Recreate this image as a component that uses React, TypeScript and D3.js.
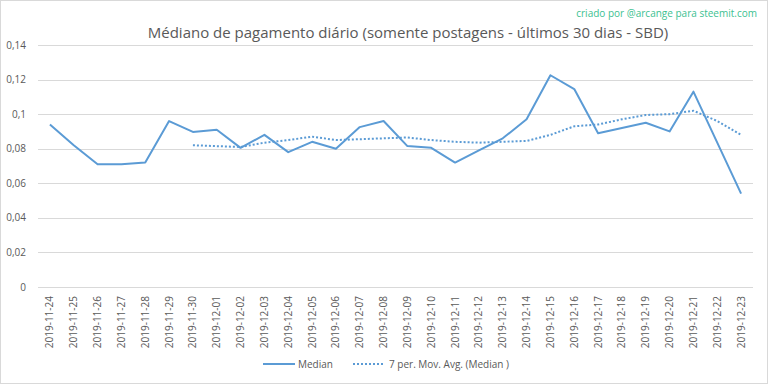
import { useEffect, useRef } from 'react'
import * as d3 from 'd3'

const dates = [
  '2019-11-24', '2019-11-25', '2019-11-26', '2019-11-27', '2019-11-28', '2019-11-29',
  '2019-11-30', '2019-12-01', '2019-12-02', '2019-12-03', '2019-12-04', '2019-12-05',
  '2019-12-06', '2019-12-07', '2019-12-08', '2019-12-09', '2019-12-10', '2019-12-11',
  '2019-12-12', '2019-12-13', '2019-12-14', '2019-12-15', '2019-12-16', '2019-12-17',
  '2019-12-18', '2019-12-19', '2019-12-20', '2019-12-21', '2019-12-22', '2019-12-23',
]

const median = [
  0.094, 0.082, 0.071, 0.071, 0.072, 0.096,
  0.0897, 0.091, 0.0805, 0.088, 0.078, 0.084,
  0.080, 0.0925, 0.096, 0.0815, 0.0805, 0.072,
  0.079, 0.086, 0.097, 0.1225, 0.1145, 0.089,
  0.092, 0.095, 0.090, 0.113, 0.0835, 0.054,
]

// 7 per. moving average (starts at the 7th day)
const movAvg = [
  null, null, null, null, null, null,
  0.082, 0.0815, 0.081, 0.0835, 0.085, 0.087,
  0.085, 0.0855, 0.086, 0.0865, 0.085, 0.084,
  0.0835, 0.084, 0.0845, 0.088, 0.093, 0.094,
  0.097, 0.0995, 0.100, 0.102, 0.096, 0.088,
]

const yTicks = [0, 0.02, 0.04, 0.06, 0.08, 0.1, 0.12, 0.14]

const title = 'Médiano de pagamento diário (somente postagens - últimos 30 dias - SBD)'
const credit = 'criado por @arcange para steemit.com'
const legendLabels = ['Median', '7 per. Mov. Avg. (Median )']

export default function App() {
  const svgRef = useRef<SVGSVGElement>(null)

  useEffect(() => {
    if (!svgRef.current) return

    const width = 768
    const height = 384
    const margin = { top: 45, right: 15, bottom: 97, left: 38 }
    const blue = '#5b9bd5'
    const textColor = '#595959'
    const font = "'Open Sans', sans-serif"

    const svg = d3.select(svgRef.current)
    svg.selectAll('*').remove()
    svg.attr('width', width).attr('height', height)

    svg
      .append('rect')
      .attr('x', 0.5)
      .attr('y', 0.5)
      .attr('width', width - 1)
      .attr('height', height - 1)
      .attr('fill', '#fff')
      .attr('stroke', '#d9d9d9')

    const x = d3
      .scaleBand()
      .domain(dates)
      .range([margin.left, width - margin.right])

    const y = d3
      .scaleLinear()
      .domain([0, 0.14])
      .range([height - margin.bottom, margin.top])

    // Gridlines
    svg
      .append('g')
      .selectAll('line')
      .data(yTicks)
      .enter()
      .append('line')
      .attr('x1', margin.left)
      .attr('x2', width - margin.right)
      .attr('y1', d => Math.round(y(d)) + 0.5)
      .attr('y2', d => Math.round(y(d)) + 0.5)
      .attr('stroke', '#d9d9d9')
      .attr('stroke-width', 1)

    // Y labels
    const fmt = (d: number) => (d === 0 ? '0' : String(+d.toFixed(2)).replace('.', ','))
    svg
      .append('g')
      .selectAll('text')
      .data(yTicks)
      .enter()
      .append('text')
      .attr('x', 26)
      .attr('y', d => y(d) + 3.5)
      .attr('text-anchor', 'end')
      .style('font-family', font)
      .style('font-size', '10px')
      .style('fill', textColor)
      .text(fmt)

    // X labels
    svg
      .append('g')
      .selectAll('text')
      .data(dates)
      .enter()
      .append('text')
      .attr('transform', d => `translate(${x(d)! + x.bandwidth() / 2 + 3.5}, ${height - margin.bottom + 9}) rotate(-90)`)
      .attr('text-anchor', 'end')
      .style('font-family', font)
      .style('font-size', '10px')
      .style('fill', textColor)
      .text(d => d)

    const cx = (i: number) => x(dates[i])! + x.bandwidth() / 2

    const line = d3
      .line<number | null>()
      .defined(d => d !== null)
      .x((_, i) => cx(i))
      .y(d => y(d as number))

    svg
      .append('path')
      .datum(movAvg)
      .attr('fill', 'none')
      .attr('stroke', blue)
      .attr('stroke-width', 2)
      .attr('stroke-dasharray', '2 2')
      .attr('d', line)

    svg
      .append('path')
      .datum(median as (number | null)[])
      .attr('fill', 'none')
      .attr('stroke', blue)
      .attr('stroke-width', 2)
      .attr('stroke-linejoin', 'round')
      .attr('d', line)

    // Title
    svg
      .append('text')
      .attr('x', 408)
      .attr('y', 38)
      .attr('text-anchor', 'middle')
      .style('font-family', font)
      .style('font-size', '15px')
      .style('fill', textColor)
      .text(title)

    svg
      .append('text')
      .attr('x', 757)
      .attr('y', 17)
      .attr('text-anchor', 'end')
      .style('font-family', font)
      .style('font-size', '10px')
      .style('fill', '#3cbf91')
      .text(credit)

    // Legend
    const legend = svg.append('g').attr('transform', 'translate(0, 364)')
    legend
      .append('line')
      .attr('x1', 263)
      .attr('x2', 295)
      .attr('stroke', blue)
      .attr('stroke-width', 2)
    legend
      .append('text')
      .attr('x', 298)
      .attr('y', 4)
      .style('font-family', font)
      .style('font-size', '10px')
      .style('fill', textColor)
      .text(legendLabels[0])
    legend
      .append('line')
      .attr('x1', 353)
      .attr('x2', 384)
      .attr('stroke', blue)
      .attr('stroke-width', 2)
      .attr('stroke-dasharray', '2 2')
    legend
      .append('text')
      .attr('x', 389)
      .attr('y', 4)
      .style('font-family', font)
      .style('font-size', '10px')
      .style('fill', textColor)
      .text(legendLabels[1])
  }, [])

  return (
    <div style={{ position: 'fixed', left: 0, top: 0 }}>
      <svg ref={svgRef} style={{ display: 'block' }}></svg>
    </div>
  )
}
